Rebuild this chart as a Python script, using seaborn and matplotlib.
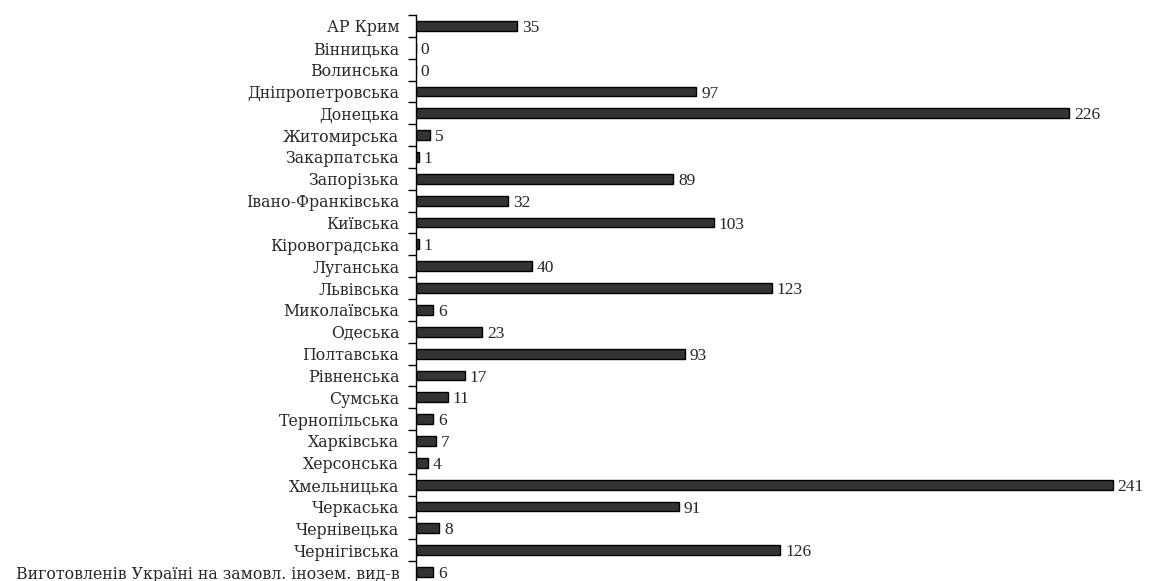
import numpy as np
import pandas as pd
import seaborn as sns
import matplotlib.pyplot as plt

regions = ['АР Крим', 'Вінницька', 'Волинська', 'Дніпропетровська', 'Донецька',
           'Житомирська', 'Закарпатська', 'Запорізька', 'Івано-Франківська',
           'Київська', 'Кіровоградська', 'Луганська', 'Львівська', 'Миколаївська',
           'Одеська', 'Полтавська', 'Рівненська', 'Сумська', 'Тернопільська',
           'Харківська', 'Херсонська', 'Хмельницька', 'Черкаська', 'Чернівецька',
           'Чернігівська', 'Виготовленів Україні на замовл. інозем. вид-в']
values = [35, 0, 0, 97, 226, 5, 1, 89, 32, 103, 1, 40, 123, 6, 23, 93, 17, 11,
          6, 7, 4, 241, 91, 8, 126, 6]

df = pd.DataFrame({'region': regions, 'value': values})

sns.set_style('white')
# the original labels are a widely spaced Times; DejaVu Serif gives a similar footprint
plt.rcParams['font.family'] = ['DejaVu Serif']

fig = plt.figure(figsize=(11.49, 5.81), dpi=100)
ax = fig.add_axes([0.362, -0.0034, 0.629, 0.9776])
sns.barplot(data=df, x='value', y='region', orient='h', color='#333333',
            edgecolor='black', linewidth=1, width=0.45, saturation=1, ax=ax)

ax.set_xlim(0, 250)
ax.set_ylim(len(regions) - 0.5, -0.5)
for i, v in enumerate(values):
    ax.annotate(str(v), (v, i), xytext=(3.5, -1.5), textcoords='offset points',
                va='center', ha='left', fontsize=12.5,
                family=['Liberation Serif', 'DejaVu Serif'], clip_on=False)

sns.despine(ax=ax, top=True, right=True, bottom=True)
ax.spines['left'].set_color('black')
ax.spines['left'].set_linewidth(1)
ax.set_xticks([])
ax.set_xlabel('')
ax.set_ylabel('')
ax.set_yticks(np.arange(len(regions)))
ax.set_yticklabels(regions, fontsize=11.3)
ax.set_yticks(np.arange(len(regions) + 1) - 0.5, minor=True)
ax.tick_params(axis='y', which='major', length=0, pad=12)
ax.tick_params(axis='y', which='minor', length=6, width=1, color='black', left=True)

fig.savefig('out.png', dpi=100)
